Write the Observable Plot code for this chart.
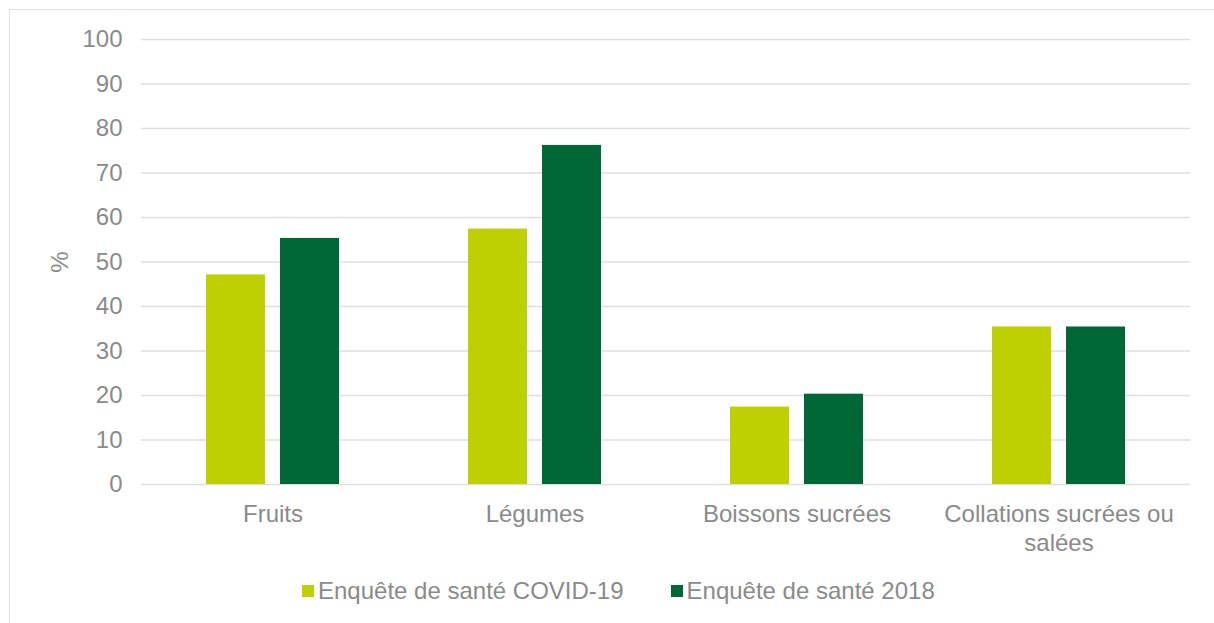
<!DOCTYPE html>
<html>
<head>
<meta charset="utf-8">
<script src="https://cdn.jsdelivr.net/npm/d3@7"></script>
<script src="https://cdn.jsdelivr.net/npm/@observablehq/plot@0.6"></script>
<style>
  html, body { margin: 0; padding: 0; background: #fff; }
  body { width: 1214px; height: 623px; overflow: hidden; position: relative; font-family: "Liberation Sans", Arial, sans-serif; }
  #frame { position: absolute; left: 9px; top: 9px; width: 1400px; height: 800px; border: 1.5px solid #e0e0e0; box-sizing: border-box; }
  #chart { position: absolute; left: 0; top: 0; }
  #legend { position: absolute; left: 302px; top: 579px; height: 24px; display: flex; align-items: center; font-size: 24px; color: #8a8a8a; white-space: nowrap; }
  .item { display: flex; align-items: center; margin-right: 47px; }
  .sw { width: 12px; height: 12px; margin-right: 4px; display: inline-block; }
</style>
</head>
<body>
<div id="frame"></div>
<div id="chart"></div>
<div id="legend"></div>
<script>
const categories = ["Fruits", "Légumes", "Boissons sucrées", "Collations sucrées ou salées"];
const seriesNames = ["Enquête de santé COVID-19", "Enquête de santé 2018"];
const covidValues = [47.1, 57.4, 17.4, 35.4];
const values2018 = [55.3, 76.2, 20.3, 35.4];
const yTicks = [0, 10, 20, 30, 40, 50, 60, 70, 80, 90, 100];
const seriesColors = ["#bfd000", "#006837"];

const table = [];
categories.forEach((c, i) => {
  table.push({category: c, series: seriesNames[0], value: covidValues[i]});
  table.push({category: c, series: seriesNames[1], value: values2018[i]});
});

const textColor = "#8a8a8a";
const fontSize = "24px";

const chart = Plot.plot({
  width: 1214,
  height: 560,
  marginLeft: 141,
  marginRight: 24,
  marginTop: 39,
  marginBottom: 76,
  style: {fontFamily: '"Liberation Sans", Arial, sans-serif', fontSize: fontSize, color: textColor, background: "transparent", overflow: "visible"},
  x: {domain: categories, paddingInner: 0.493, paddingOuter: 0.2465},
  y: {domain: [0, 100]},
  color: {domain: seriesNames, range: seriesColors},
  marks: [
    Plot.gridY(yTicks, {stroke: "#dedede", strokeOpacity: 1, strokeWidth: 1.5}),
    Plot.barY(table.filter(d => d.series === seriesNames[0]), {x: "category", y: "value", fill: "series", insetRight: 74}),
    Plot.barY(table.filter(d => d.series === seriesNames[1]), {x: "category", y: "value", fill: "series", insetLeft: 74}),
    Plot.axisY({ticks: yTicks, tickSize: 0, tickPadding: 19, fill: textColor, fontSize: fontSize, label: "%", labelAnchor: "center", labelOffset: 91, labelArrow: "none"}),
    Plot.axisX({tickSize: 0, tickPadding: 18, fill: textColor, fontSize: fontSize, lineWidth: 11.5, lineHeight: 1.17, label: null})
  ]
});
document.getElementById("chart").appendChild(chart);

const legend = document.getElementById("legend");
seriesNames.forEach((name, i) => {
  const item = document.createElement("div");
  item.className = "item";
  const sw = document.createElement("span");
  sw.className = "sw";
  sw.style.background = seriesColors[i];
  const label = document.createElement("span");
  label.textContent = name;
  item.appendChild(sw);
  item.appendChild(label);
  legend.appendChild(item);
});
</script>
</body>
</html>
